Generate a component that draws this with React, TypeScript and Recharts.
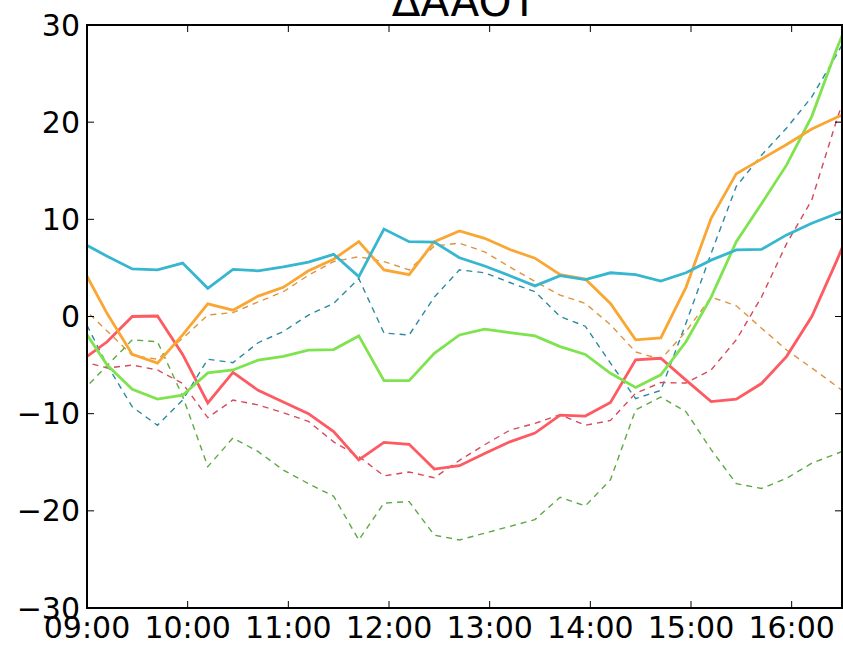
import { LineChart, Line, XAxis, YAxis } from 'recharts';

// sample times (every 15 min, first and last fall just outside the visible window)
const times = [
  '08:57', '09:12', '09:27', '09:42', '09:57', '10:12', '10:27', '10:42',
  '10:57', '11:12', '11:27', '11:42', '11:57', '12:12', '12:27', '12:42',
  '12:57', '13:12', '13:27', '13:42', '13:57', '14:12', '14:27', '14:42',
  '14:57', '15:12', '15:27', '15:42', '15:57', '16:12', '16:27', '16:42',
];

// solid series
const cyanSolid = [7.6, 6.2, 4.9, 4.8, 5.5, 2.9, 4.85, 4.7, 5.1, 5.6, 6.4, 4.1, 9.0, 7.7, 7.65, 6.05, 5.2, 4.2, 3.15, 4.2, 3.8, 4.5, 4.3, 3.65, 4.5, 5.8, 6.85, 6.9, 8.4, 9.6, 10.6, 11.6];
const orangeSolid = [5.1, 0.3, -3.9, -4.8, -1.9, 1.3, 0.65, 2.1, 3.0, 4.7, 5.9, 7.7, 4.8, 4.3, 7.7, 8.8, 8.05, 6.9, 6.0, 4.3, 3.85, 1.35, -2.4, -2.2, 3.0, 10.1, 14.7, 16.2, 17.7, 19.3, 20.5, 21.6];
const greenSolid = [-1.1, -5.0, -7.5, -8.5, -8.1, -5.8, -5.5, -4.5, -4.1, -3.45, -3.4, -2.0, -6.6, -6.6, -3.8, -1.9, -1.3, -1.65, -2.0, -3.1, -3.9, -5.85, -7.3, -6.0, -2.6, 2.0, 7.7, 11.6, 15.6, 20.6, 27.6, 34];
const redSolid = [-4.5, -2.6, 0, 0.05, -3.9, -8.9, -5.75, -7.6, -8.8, -10.0, -11.85, -14.75, -12.95, -13.15, -15.7, -15.35, -14.1, -12.9, -12.0, -10.15, -10.25, -8.85, -4.45, -4.3, -6.55, -8.75, -8.5, -6.9, -4.1, 0, 5.8, 12];

// dashed series
const tealDashed = [0.1, -5.0, -9.3, -11.2, -8.6, -4.4, -4.75, -2.7, -1.55, 0.15, 1.35, 3.9, -1.7, -1.9, 2.0, 4.8, 4.5, 3.5, 2.55, 0, -1.0, -4.8, -8.45, -7.6, -0.7, 6.5, 13.4, 16.6, 19.4, 22.6, 27.0, 31.8];
const orangeDashed = [1.0, -1.5, -4.0, -4.4, -2.25, 0.15, 0.4, 1.5, 2.55, 4.25, 5.65, 6.15, 5.65, 4.8, 7.25, 7.55, 6.65, 5.1, 3.6, 2.2, 1.35, -0.85, -3.65, -4.4, -1.55, 2.0, 1.1, -1.2, -3.45, -5.3, -7.2, -9.2];
const redDashed = [-4.6, -5.3, -5.0, -5.5, -6.9, -10.4, -8.6, -9.1, -9.9, -10.8, -12.9, -14.4, -16.4, -16.0, -16.6, -14.8, -13.2, -11.7, -11.0, -10.1, -11.2, -10.7, -7.9, -6.8, -6.85, -5.5, -2.4, 2.0, 7.5, 12.0, 20.3, 28];
const greenDashed = [-7.7, -5.05, -2.4, -2.6, -8.2, -15.45, -12.5, -13.9, -15.8, -17.2, -18.5, -23.0, -19.2, -19.05, -22.5, -23.0, -22.3, -21.6, -20.9, -18.6, -19.5, -16.8, -9.6, -8.3, -9.8, -13.7, -17.2, -17.7, -16.65, -15.1, -14.1, -13.1];

const xTicks = ['09:00', '10:00', '11:00', '12:00', '13:00', '14:00', '15:00', '16:00'];
const yTicks = [-30, -20, -10, 0, 10, 20, 30];
const xRange = ['09:00', '16:30'];

const toMin = (s: string) => {
  const [h, m] = s.split(':').map(Number);
  return h * 60 + m;
};
const fmtTime = (v: number) =>
  `${String(Math.floor(v / 60)).padStart(2, '0')}:${String(v % 60).padStart(2, '0')}`;
const fmtNum = (v: number) => (v < 0 ? `\u2212${Math.abs(v)}` : String(v));

const data = times.map((t, i) => ({
  t: toMin(t),
  cyan: cyanSolid[i],
  orange: orangeSolid[i],
  green: greenSolid[i],
  red: redSolid[i],
  tealD: tealDashed[i],
  orangeD: orangeDashed[i],
  redD: redDashed[i],
  greenD: greenDashed[i],
}));

const FONT = 'DejaVu Sans, sans-serif';
const domainX = xRange.map(toMin);
const domainY = [yTicks[0], yTicks[yTicks.length - 1]];

// layout
const W = 843;
const H = 645;
const M = { top: 25, right: 1 };
const Y_W = 87;
const X_H = 37;
const PLOT = { left: Y_W, top: M.top, right: W - M.right, bottom: H - X_H };
const TICK = 7;
const frame = { stroke: '#000', strokeWidth: 2 };

const dashed = [
  { key: 'tealD', color: '#2b8a9e' },
  { key: 'orangeD', color: '#de943f' },
  { key: 'redD', color: '#d74a5b' },
  { key: 'greenD', color: '#5ca845' },
];
const solid = [
  { key: 'red', color: '#fd5a61' },
  { key: 'green', color: '#7fe34f' },
  { key: 'orange', color: '#f9a632' },
  { key: 'cyan', color: '#36b6cf' },
];

// x tick label plus the matching inward tick on the top edge
const XTick = (p: any) => (
  <g>
    <line x1={p.x} x2={p.x} y1={PLOT.top} y2={PLOT.top + TICK} stroke="#000" />
    <text x={p.x} y={p.y} dy="0.71em" textAnchor="middle" fontSize={30} fontFamily={FONT} fill="#000">
      {fmtTime(p.payload.value)}
    </text>
  </g>
);

// y tick label plus the matching inward tick on the right edge
const YTick = (p: any) => (
  <g>
    <line x1={PLOT.right} x2={PLOT.right - TICK} y1={p.y} y2={p.y} stroke="#000" />
    <text x={p.x} y={p.y} dy="0.355em" textAnchor="end" fontSize={30} fontFamily={FONT} fill="#000">
      {fmtNum(p.payload.value)}
    </text>
  </g>
);

export default function App() {
  return (
    <div style={{ position: 'absolute', left: 0, top: 0, width: W, height: H, background: '#fff' }}>
      <LineChart width={W} height={H} data={data} margin={{ top: M.top, right: M.right, bottom: 0, left: 0 }}>
        <XAxis
          dataKey="t"
          type="number"
          domain={domainX}
          allowDataOverflow
          ticks={xTicks.map(toMin)}
          height={X_H}
          tickSize={-TICK}
          tickMargin={16}
          axisLine={frame}
          tickLine={{ stroke: '#000' }}
          tick={XTick}
          interval={0}
        />
        <YAxis
          type="number"
          domain={domainY}
          allowDataOverflow
          ticks={yTicks}
          width={Y_W}
          tickSize={-TICK}
          tickMargin={14}
          axisLine={frame}
          tickLine={{ stroke: '#000' }}
          tick={YTick}
          interval={0}
        />
        {dashed.map((s) => (
          <Line
            key={s.key}
            dataKey={s.key}
            stroke={s.color}
            strokeWidth={1.4}
            strokeDasharray="6 5"
            dot={false}
            isAnimationActive={false}
          />
        ))}
        {solid.map((s) => (
          <Line
            key={s.key}
            dataKey={s.key}
            stroke={s.color}
            strokeWidth={2.8}
            dot={false}
            isAnimationActive={false}
          />
        ))}
      </LineChart>
      <svg width={W} height={H} style={{ position: 'absolute', left: 0, top: 0, pointerEvents: 'none' }}>
        {/* axes box */}
        <rect
          x={PLOT.left}
          y={PLOT.top}
          width={PLOT.right - PLOT.left}
          height={PLOT.bottom - PLOT.top}
          fill="none"
          stroke="#000"
          strokeWidth={2}
        />
        <text x={(PLOT.left + PLOT.right) / 2} y={16} textAnchor="middle" fontSize={42} fontFamily={FONT} fill="#000">
          {'\u0394AAOT'}
        </text>
      </svg>
    </div>
  );
}
